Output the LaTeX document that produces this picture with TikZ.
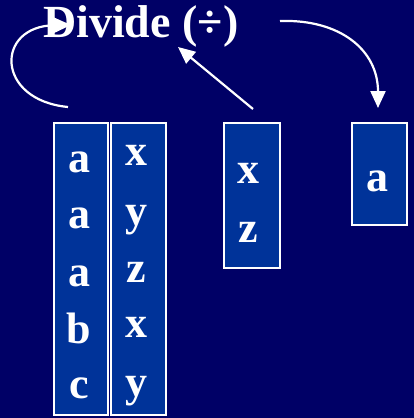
\documentclass[tikz,border=0pt]{standalone}
\usepackage{fontspec}
\setmainfont{Liberation Serif}
\usetikzlibrary{arrows.meta}
\definecolor{bgnavy}{RGB}{0,0,102}
\definecolor{boxblue}{RGB}{0,51,153}
\begin{document}
\begin{tikzpicture}[x=1pt,y=-1pt,
  cell/.style={draw=white,line width=2pt,fill=boxblue},
  letter/.style={text=white,anchor=base,inner sep=0pt,font=\fontsize{44}{44}\selectfont\bfseries},
  arr/.style={draw=white,line width=2.2pt,-{Triangle[length=17pt,width=15pt]}}]
\fill[bgnavy] (0,0) rectangle (414,418);
\useasboundingbox (0,0) rectangle (414,418);
% title
\node[letter,anchor=base west,font=\fontsize{46}{46}\selectfont\bfseries] (title) at (43,37) {Divide (÷)};
% boxes
\draw[cell] (54,123) rectangle (108,415);
\draw[cell] (111,123) rectangle (166,415);
\draw[cell] (224,123) rectangle (280,268);
\draw[cell] (352,123) rectangle (407,225);
% letters
\node[letter] (l1) at (79,172) {a};
\node[letter] (l2) at (79,228) {a};
\node[letter] (l3) at (79,286) {a};
\node[letter] (l4) at (79,343) {b};
\node[letter] (l5) at (79,398) {c};
\node[letter] (r1) at (136,165) {x};
\node[letter] (r2) at (136,225) {y};
\node[letter] (r3) at (136,282) {z};
\node[letter] (r4) at (136,337) {x};
\node[letter] (r5) at (136,396) {y};
\node[letter] (d1) at (248,183) {x};
\node[letter] (d2) at (248,242) {z};
\node[letter] (q1) at (377,191) {a};
% connectors
\coordinate (loopS) at (68,107);
\coordinate (loopE) at (71,25);
\coordinate (midS) at (253,109);
\coordinate (midE) at (178,47);
\coordinate (rS) at (280,21);
\coordinate (rE) at (378,108);
\draw[arr] (loopS) .. controls (-5,100) and (-5,26) .. (loopE);
\draw[arr] (midS) -- (midE);
\draw[arr] (rS) .. controls (340,19) and (378,50) .. (rE);
\end{tikzpicture}
\end{document}
